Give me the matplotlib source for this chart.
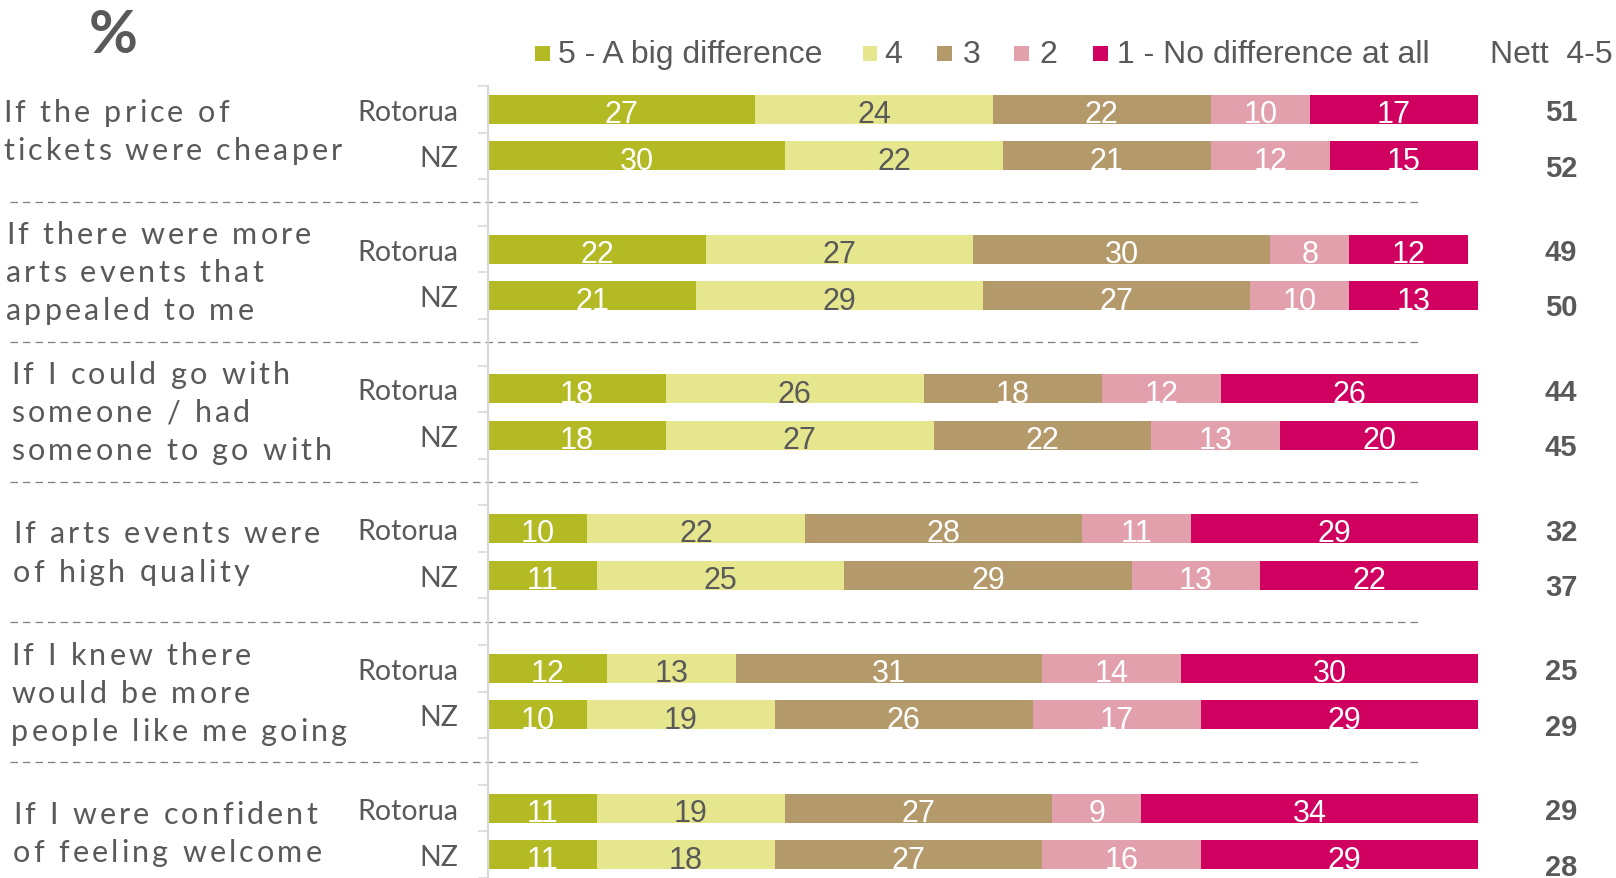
import matplotlib
matplotlib.use("Agg")
import matplotlib.pyplot as plt
from matplotlib import font_manager
from matplotlib.font_manager import FontProperties
from matplotlib.ft2font import FT2Font
from matplotlib.patches import Rectangle
from matplotlib.transforms import blended_transform_factory

# survey results, % of respondents per score level
questions = [
    ["If the price of", "tickets were cheaper"],
    ["If there were more", "arts events that", "appealed to me"],
    ["If I could go with", "someone / had", "someone to go with"],
    ["If arts events were", "of high quality"],
    ["If I knew there", "would be more", "people like me going"],
    ["If I were confident", "of feeling welcome"],
]
areas = ["Rotorua", "NZ"]

rotorua_5 = [27, 22, 18, 10, 12, 11]
rotorua_4 = [24, 27, 26, 22, 13, 19]
rotorua_3 = [22, 30, 18, 28, 31, 27]
rotorua_2 = [10, 8, 12, 11, 14, 9]
rotorua_1 = [17, 12, 26, 29, 30, 34]

nz_5 = [30, 21, 18, 11, 10, 11]
nz_4 = [22, 29, 27, 25, 19, 18]
nz_3 = [21, 27, 22, 29, 26, 27]
nz_2 = [12, 10, 13, 13, 17, 16]
nz_1 = [15, 13, 20, 22, 29, 29]

nett_rotorua = [51, 49, 44, 32, 25, 29]
nett_nz = [52, 50, 45, 37, 29, 28]

legend_labels = ["5 - A big difference", "4", "3", "2", "1 - No difference at all"]
colors = ["#B4BA24", "#E6E68E", "#B49A6B", "#E2A0AD", "#CF0060"]
label_colors = ["white", "#595959", "white", "white", "white"]
grey = "#595959"

W, H = 1616, 879
fig = plt.figure(figsize=(W / 100, H / 100), dpi=100)
ax = fig.add_axes([488 / W, 0, 990 / W, 792 / H])

slot_px = 46.8
ax.set_xlim(0, 100)
ax.set_ylim(-0.5 + 792 / slot_px, -0.5)

rot_levels = [rotorua_5, rotorua_4, rotorua_3, rotorua_2, rotorua_1]
nz_levels = [nz_5, nz_4, nz_3, nz_2, nz_1]

# stacked bars: each question uses 3 slots (Rotorua, NZ, gap)
for g in range(len(questions)):
    for row, levels in enumerate([rot_levels, nz_levels]):
        y = 3 * g + row
        left = 0
        for k, level in enumerate(levels):
            v = level[g]
            ax.barh(y, v, left=left, height=0.62, color=colors[k], linewidth=0)
            ax.text(left + v / 2, y + 0.03, str(v), ha="center", va="center_baseline",
                    fontsize=22, family="Liberation Sans", color=label_colors[k])
            left += v

ytick_pos = [3 * g + r for g in range(len(questions)) for r in range(2)]
ax.set_yticks(ytick_pos)
ax.set_yticklabels(areas * len(questions), fontsize=20.5, family="Lato", color=grey)
ax.set_yticks([3 * g + r - 0.5 for g in range(len(questions)) for r in range(3)], minor=True)
ax.tick_params(axis="y", which="major", length=0, pad=21.5)
ax.tick_params(axis="y", which="minor", length=7.5, width=1.2, color="#D9D9D9")
ax.xaxis.set_visible(False)
for side in ["top", "right", "bottom"]:
    ax.spines[side].set_visible(False)
ax.spines["left"].set_color("#D9D9D9")
ax.spines["left"].set_linewidth(1.6)

# dashed separators and nett column
blend = blended_transform_factory(fig.transFigure, ax.transData)
for g in range(len(questions) - 1):
    ax.plot([10 / W, 1421 / W], [3 * g + 2] * 2, transform=blend, clip_on=False,
            color="#7F7F7F", lw=0.9, linestyle=(0, (6, 4)))
for g in range(len(questions)):
    ax.text(1561 / W, 3 * g, str(nett_rotorua[g]), transform=blend, ha="center",
            va="center_baseline", fontsize=21, fontweight="bold",
            family="Liberation Sans", color=grey)
    ax.text(1561 / W, 3 * g + 1.19, str(nett_nz[g]), transform=blend, ha="center",
            va="center_baseline", fontsize=21, fontweight="bold",
            family="Liberation Sans", color=grey)


def tracked_text(x_px, y_px, s, size, tracking, color, family="Lato"):
    fname = font_manager.findfont(FontProperties(family=family))
    ft = FT2Font(fname)
    ft.set_size(size, 100)
    for c in s:
        fig.text(x_px / W, 1 - y_px / H, c, fontsize=size, family=family,
                 color=color, ha="left", va="baseline")
        x_px += ft.load_char(ord(c)).linearHoriAdvance / 65536 + tracking


# question labels, letter-spaced
q_left = [3, 6, 11, 13, 11, 13]
for g, lines in enumerate(questions):
    centre = 87 + (3 * g + 1) * slot_px
    n = len(lines)
    for k, line in enumerate(lines):
        y_px = centre + (k - (n - 1) / 2) * 38 + 7.5
        tracked_text(q_left[g], y_px, line, 22, 3.2, grey)

# legend row
sq_x = [542, 870, 944, 1021, 1100]
txt_x = [558, 884, 963, 1039, 1117]
for k, lab in enumerate(legend_labels):
    fig.patches.append(Rectangle(((sq_x[k] - 7.5) / W, 1 - 61.5 / H), 15 / W, 15 / H,
                                 transform=fig.transFigure, color=colors[k], lw=0))
    fig.text(txt_x[k] / W, 1 - 63 / H, lab, fontsize=23, family="Liberation Sans",
             color=grey, ha="left", va="baseline")
fig.text(1490 / W, 1 - 63 / H, "Nett  4-5", fontsize=23, family="Liberation Sans",
         color=grey, ha="left", va="baseline")

fig.text(113 / W, 1 - 36 / H, "%", fontsize=43, family="Lato", fontweight="bold",
         color=grey, ha="center", va="center")

fig.savefig("out.png", dpi=100)
